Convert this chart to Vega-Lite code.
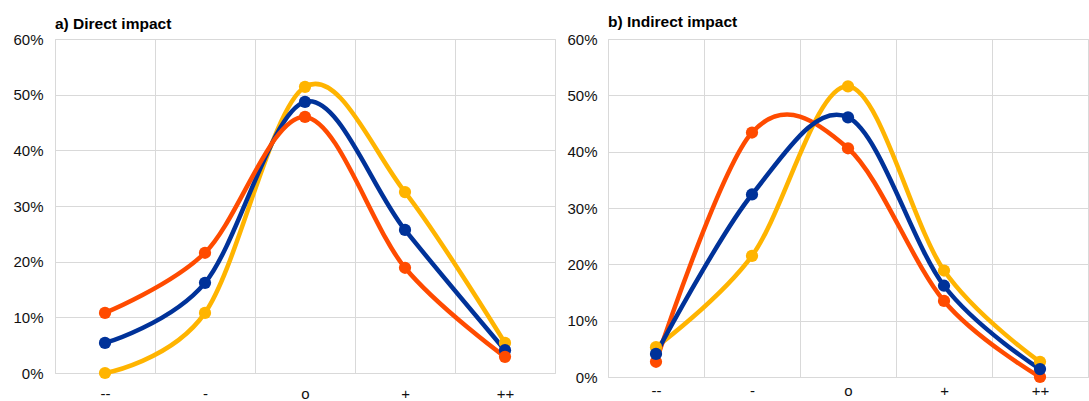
{
  "$schema": "https://vega.github.io/schema/vega-lite/v6.json",
  "padding": {"left": 12, "top": 14, "right": 0, "bottom": 0},
  "background": "white",
  "spacing": 10,
  "config": {
    "font": "Liberation Sans",
    "view": {"stroke": "#d9d9d9", "strokeWidth": 1},
    "axis": {"labelFont": "Liberation Sans", "labelFontSize": 15, "labelColor": "#111", "gridColor": "#d9d9d9", "gridWidth": 1, "domain": false, "ticks": false},
    "title": {"font": "Liberation Sans", "fontSize": 15.5, "fontWeight": "bold", "anchor": "start", "frame": "group", "color": "#000"}
  },
  "datasets": {
    "direct": [
      {"category": "--", "series": "Series 3", "value": 0.0},
      {"category": "-", "series": "Series 3", "value": 0.108},
      {"category": "o", "series": "Series 3", "value": 0.514},
      {"category": "+", "series": "Series 3", "value": 0.325},
      {"category": "++", "series": "Series 3", "value": 0.054},
      {"category": "--", "series": "Series 2", "value": 0.054},
      {"category": "-", "series": "Series 2", "value": 0.162},
      {"category": "o", "series": "Series 2", "value": 0.487},
      {"category": "+", "series": "Series 2", "value": 0.257},
      {"category": "++", "series": "Series 2", "value": 0.041},
      {"category": "--", "series": "Series 1", "value": 0.108},
      {"category": "-", "series": "Series 1", "value": 0.216},
      {"category": "o", "series": "Series 1", "value": 0.46},
      {"category": "+", "series": "Series 1", "value": 0.189},
      {"category": "++", "series": "Series 1", "value": 0.029}
    ],
    "indirect": [
      {"category": "--", "series": "Series 3", "value": 0.053},
      {"category": "-", "series": "Series 3", "value": 0.215},
      {"category": "o", "series": "Series 3", "value": 0.516},
      {"category": "+", "series": "Series 3", "value": 0.189},
      {"category": "++", "series": "Series 3", "value": 0.027},
      {"category": "--", "series": "Series 1", "value": 0.027},
      {"category": "-", "series": "Series 1", "value": 0.434},
      {"category": "o", "series": "Series 1", "value": 0.406},
      {"category": "+", "series": "Series 1", "value": 0.135},
      {"category": "++", "series": "Series 1", "value": 0.0},
      {"category": "--", "series": "Series 2", "value": 0.041},
      {"category": "-", "series": "Series 2", "value": 0.324},
      {"category": "o", "series": "Series 2", "value": 0.461},
      {"category": "+", "series": "Series 2", "value": 0.162},
      {"category": "++", "series": "Series 2", "value": 0.014}
    ]
  },
  "hconcat": [
    {
      "title": {"text": "a) Direct impact", "offset": 0},
      "width": 500,
      "height": 334,
      "data": {"name": "direct"},
      "encoding": {
        "x": {"field": "category", "type": "ordinal", "sort": ["--", "-", "o", "+", "++"], "scale": {"type": "band", "paddingInner": 0, "paddingOuter": 0}, "axis": {"title": null, "labelAngle": 0, "tickBand": "extent", "grid": true, "labelPadding": 13}},
        "y": {"field": "value", "type": "quantitative", "scale": {"domain": [0, 0.6], "nice": false}, "axis": {"title": null, "format": ".0%", "values": [0, 0.1, 0.2, 0.3, 0.4, 0.5, 0.6], "labelPadding": 12}},
        "color": {"field": "series", "type": "nominal", "scale": {"domain": ["Series 1", "Series 2", "Series 3"], "range": ["#FF4B00", "#003299", "#FFB400"]}, "legend": null}
      },
      "layer": [
        {"mark": {"type": "line", "interpolate": "cardinal", "tension": 0, "strokeWidth": 4.5}},
        {"mark": {"type": "circle", "size": 150, "opacity": 1}}
      ]
    },
    {
      "title": {"text": "b) Indirect impact", "offset": 2},
      "width": 480,
      "height": 338,
      "data": {"name": "indirect"},
      "encoding": {
        "x": {"field": "category", "type": "ordinal", "sort": ["--", "-", "o", "+", "++"], "scale": {"type": "band", "paddingInner": 0, "paddingOuter": 0}, "axis": {"title": null, "labelAngle": 0, "tickBand": "extent", "grid": true, "labelPadding": 6}},
        "y": {"field": "value", "type": "quantitative", "scale": {"domain": [0, 0.6], "nice": false}, "axis": {"title": null, "format": ".0%", "values": [0, 0.1, 0.2, 0.3, 0.4, 0.5, 0.6], "labelPadding": 11}},
        "color": {"field": "series", "type": "nominal", "scale": {"domain": ["Series 1", "Series 2", "Series 3"], "range": ["#FF4B00", "#003299", "#FFB400"]}, "legend": null}
      },
      "layer": [
        {"mark": {"type": "line", "interpolate": "cardinal", "tension": 0, "strokeWidth": 4.5}},
        {"mark": {"type": "circle", "size": 150, "opacity": 1}}
      ]
    }
  ]
}
